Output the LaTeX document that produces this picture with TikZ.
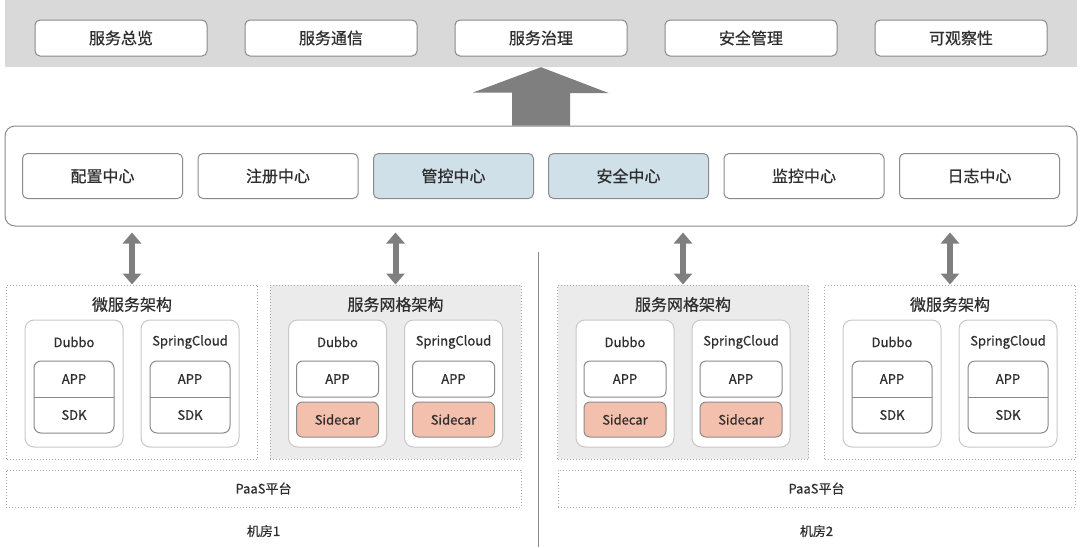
\documentclass[tikz,border=0pt]{standalone}
\usepackage{fontspec}
\setmainfont{Noto Sans CJK SC}[FakeBold=0.6]
\usepackage{tikz}
\usetikzlibrary{arrows.meta, positioning, calc}

\definecolor{bandgray}{HTML}{D9D9D9}
\definecolor{edge}{HTML}{8A8A8A}
\definecolor{hubblue}{HTML}{D0E0E8}
\definecolor{salmon}{HTML}{F4C0AE}
\definecolor{meshgray}{HTML}{EBEBEB}
\definecolor{dotgray}{HTML}{A8A8A8}
\definecolor{framegray}{HTML}{C8C8C8}
\definecolor{arrowgray}{HTML}{7F7F7F}
\definecolor{ink}{HTML}{2E2E2E}

\begin{document}
\begin{tikzpicture}[
    x=1pt, y=-1pt,
    txt/.style={text=ink, font=\fontsize{16}{19}\selectfont},
    small/.style={text=ink, font=\fontsize{13}{15}\selectfont},
    topbox/.style={draw=edge, line width=1pt, fill=white, rounded corners=5pt, minimum width=172pt, minimum height=36pt, txt},
    hub/.style={draw=edge, line width=1pt, fill=white, rounded corners=5pt, minimum width=160pt, minimum height=45pt, txt},
    group/.style={draw=dotgray, dotted, line width=1pt, minimum width=251pt, minimum height=174pt},
    frame/.style={draw=framegray, line width=1pt, fill=white, rounded corners=9pt, minimum width=98pt, minimum height=127pt},
    stack/.style={draw=edge, line width=1pt, fill=white, rounded corners=7pt, minimum width=80pt, minimum height=72pt},
    part/.style={draw=edge, line width=1pt, rounded corners=6pt, minimum width=82pt, minimum height=35pt, small},
    paas/.style={draw=dotgray, dotted, line width=1pt, minimum height=37pt, small},
    duplex/.style={{Triangle[width=18pt,length=11pt]}-{Triangle[width=18pt,length=11pt]}, line width=6pt, draw=arrowgray},
    % framework with SDK inside the app
    sdkapp/.pic={
        \node[frame] (-frame) at (0,0) {};
        \node[small] (-label) at (0,-41.5) {#1};
        \node[stack] (-stack) at (0,13.5) {};
        \draw[draw=edge, line width=1pt] (-40,13.5) -- (40,13.5);
        \node[small] (-app) at (0,-4.5) {APP};
        \node[small] (-sdk) at (0,31.5) {SDK};
    },
    % framework with a sidecar next to the app
    meshapp/.pic={
        \node[frame] (-frame) at (0,0) {};
        \node[small] (-label) at (0,-41.5) {#1};
        \node[part, fill=white, minimum height=36pt] (-app) at (0,-4.5) {APP};
        \node[part, fill=salmon] (-sidecar) at (0,36) {Sidecar};
    }
]
    \useasboundingbox (0,0) rectangle (1080,547);

    % Capability band
    \node[fill=bandgray, minimum width=1072pt, minimum height=67pt, inner sep=0pt] (band) at (541,33.5) {};
    \node[topbox] (govern) at (541,38) {服务治理};
    \node[topbox, left=37pt of govern] (comm) {服务通信};
    \node[topbox, left=37pt of comm] (overview) {服务总览};
    \node[topbox, right=37pt of govern] (secmgmt) {安全管理};
    \node[topbox, right=37pt of secmgmt] (observe) {可观察性};

    % Control plane
    \node[draw=edge, line width=1pt, rounded corners=10pt, minimum width=1072pt, minimum height=100pt] (core) at (541,176) {};
    \node[hub, fill=hubblue, left=7pt of core.center] (ctrl) {管控中心};
    \node[hub, left=14.5pt of ctrl] (registry) {注册中心};
    \node[hub, left=14.5pt of registry] (config) {配置中心};
    \node[hub, fill=hubblue, right=7pt of core.center] (security) {安全中心};
    \node[hub, right=14.5pt of security] (monitor) {监控中心};
    \node[hub, right=14.5pt of monitor] (logging) {日志中心};

    % Upward arrow
    \fill[arrowgray] (band.south) -- ++(68,26) -- ++(-39,0) -- ([xshift=29pt]core.north)
        -- ([xshift=-29pt]core.north) -- ++(0,-33) -- ++(-39,0) -- cycle;

    % Room 1
    \node[group] (msA) at (132,372) {};
    \node[txt] (msAtitle) at ($(msA.north)+(0,20)$) {微服务架构};
    \pic (msA-dubbo) at ($(msA.center)+(-58,11.5)$) {sdkapp=Dubbo};
    \pic (msA-spring) at ($(msA.center)+(58,11.5)$) {sdkapp=SpringCloud};

    \node[group, fill=meshgray] (meshA) at (395.5,372) {};
    \node[txt] (meshAtitle) at ($(meshA.north)+(0,20)$) {服务网格架构};
    \pic (meshA-dubbo) at ($(meshA.center)+(-58,11.5)$) {meshapp=Dubbo};
    \pic (meshA-spring) at ($(meshA.center)+(58,11.5)$) {meshapp=SpringCloud};

    \node[paas, minimum width=515pt] (paasA) at (263.5,488.5) {PaaS平台};
    \node[small, below=14pt of paasA] (roomA) {机房1};

    % Room 2
    \node[group, fill=meshgray] (meshB) at (683,372) {};
    \node[txt] (meshBtitle) at ($(meshB.north)+(0,20)$) {服务网格架构};
    \pic (meshB-dubbo) at ($(meshB.center)+(-58,11.5)$) {meshapp=Dubbo};
    \pic (meshB-spring) at ($(meshB.center)+(58,11.5)$) {meshapp=SpringCloud};

    \node[group] (msB) at (950,372) {};
    \node[txt] (msBtitle) at ($(msB.north)+(0,20)$) {微服务架构};
    \pic (msB-dubbo) at ($(msB.center)+(-58,11.5)$) {sdkapp=Dubbo};
    \pic (msB-spring) at ($(msB.center)+(58,11.5)$) {sdkapp=SpringCloud};

    \node[paas, minimum width=517pt] (paasB) at (816.5,488.5) {PaaS平台};
    \node[small, below=14pt of paasB] (roomB) {机房2};

    % Divider between rooms
    \draw[draw=edge, line width=1pt] (538,252) -- (538,547);

    % Arrows to the control plane
    \draw[duplex] ([yshift=-6pt]core.south -| msA.north) -- (msA.north);
    \draw[duplex] ([yshift=-6pt]core.south -| meshA.north) -- (meshA.north);
    \draw[duplex] ([yshift=-6pt]core.south -| meshB.north) -- (meshB.north);
    \draw[duplex] ([yshift=-6pt]core.south -| msB.north) -- (msB.north);

\end{tikzpicture}
\end{document}
